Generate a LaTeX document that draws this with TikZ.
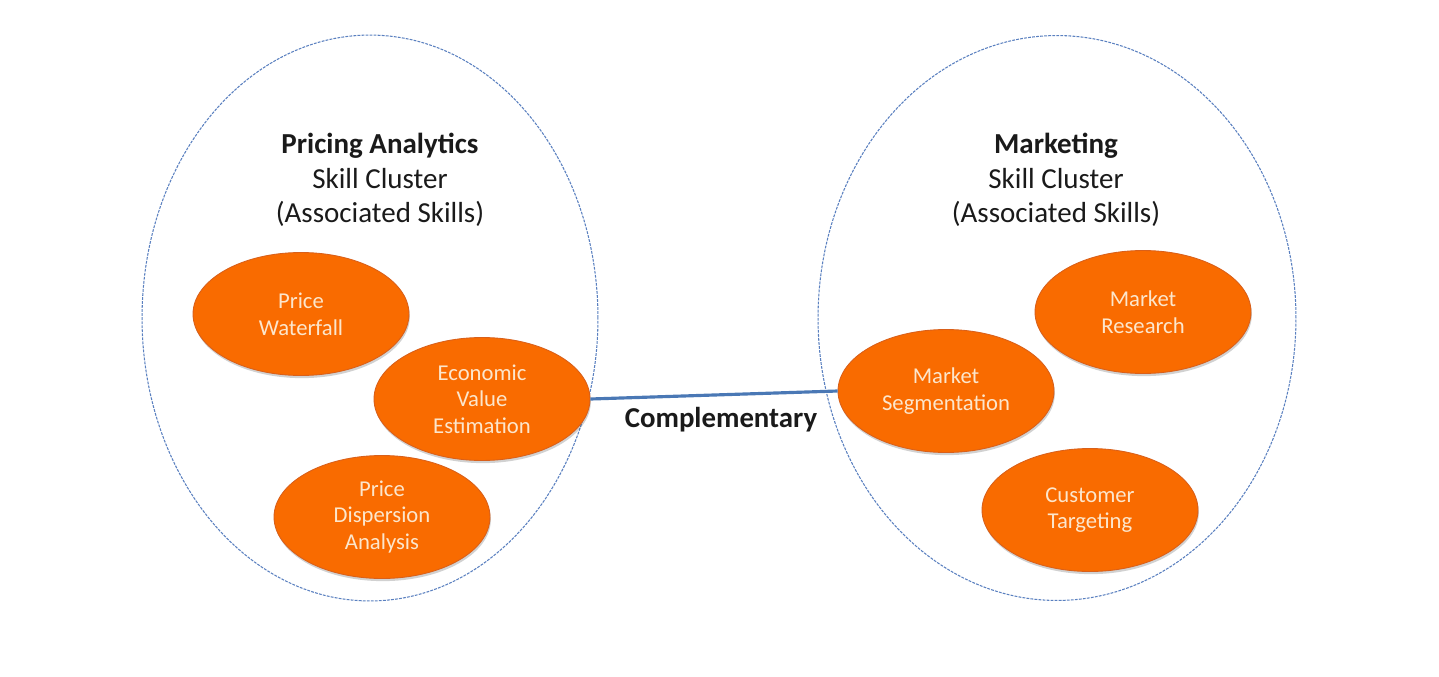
\documentclass[tikz,border=0pt]{standalone}
\usepackage{fontspec}
\setmainfont{Carlito}
\usetikzlibrary{shapes.geometric,shadows}
\definecolor{skillorange}{HTML}{F96B00}
\definecolor{skillborder}{HTML}{D9601A}
\definecolor{skilltext}{HTML}{FCE6CC}
\definecolor{clusterblue}{HTML}{5A80C0}
\definecolor{linkblue}{HTML}{4A78B5}
\definecolor{titletext}{HTML}{1A1A1A}
\tikzset{
  cluster/.style={ellipse, draw=clusterblue, line width=0.6pt,
    dash pattern=on 1.6pt off 0.7pt, inner sep=0pt},
  skill/.style={ellipse, fill=skillorange, draw=skillborder, line width=0.5pt,
    minimum width=4.32cm, minimum height=2.46cm, inner sep=0pt,
    text=skilltext, align=center, font=\fontsize{12.9}{15.2}\selectfont,
    drop shadow={shadow xshift=0.5pt, shadow yshift=-1.5pt, fill=black, opacity=0.18}},
  title/.style={align=center, text=titletext, font=\fontsize{16.5}{19.8}\selectfont},
  link/.style={draw=linkblue, line width=1.8pt},
}
\begin{document}
\begin{tikzpicture}[x=0.02cm, y=-0.02cm]
\useasboundingbox[fill=white] (0,0) rectangle (1439,676);
\node[cluster, minimum width=9.12cm, minimum height=11.32cm] (leftc) at (370,318) {};
\node[cluster, minimum width=9.56cm, minimum height=11.30cm] (rightc) at (1057,318) {};
\node[title] (lt) at (380,180) {\textbf{Pricing Analytics}\\Skill Cluster\\(Associated Skills)};
\node[title] (rt) at (1056,180) {\textbf{Marketing}\\Skill Cluster\\(Associated Skills)};
\node[skill] (pw) at (301,314) {Price\\Waterfall};
\node[skill] (eve) at (482,399) {Economic\\Value\\Estimation};
\node[skill] (pda) at (382,517) {Price\\Dispersion\\Analysis};
\node[skill] (mr) at (1143,312) {Market\\Research};
\node[skill] (ms) at (946,391) {Market\\Segmentation};
\node[skill] (ct) at (1090,510) {Customer\\Targeting};
\draw[link] (eve.east) -- (ms.west);
\node[font=\fontsize{16.4}{19}\selectfont\bfseries, text=titletext] (comp) at (721,420) {Complementary};
\end{tikzpicture}
\end{document}
